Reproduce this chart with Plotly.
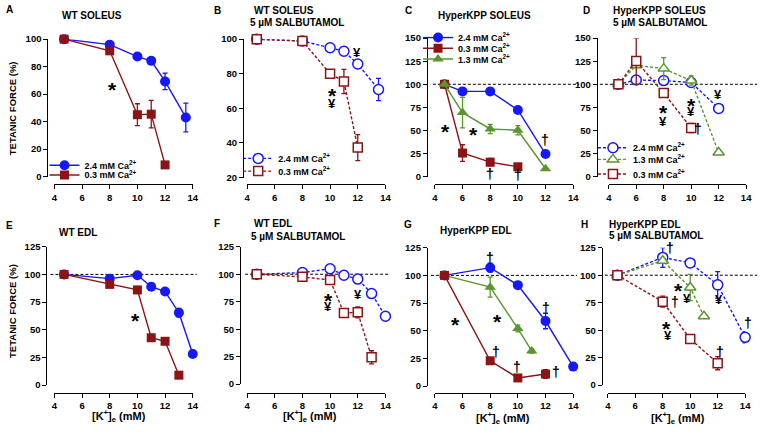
import plotly.graph_objects as go

W, H = 763, 434
FONT = "Liberation Sans, Arial, sans-serif"
BLUE = "#1616ff"
RED = "#8c1414"
GREEN = "#5a962d"

# ---------------- data ----------------
# A: WT soleus
A_x_24 = [4.7, 8, 10, 11, 12, 13.5]
A_y_24 = [100, 96, 87.3, 84.2, 69.2, 43]
A_e_24 = [0, 0, 0, 0, 6, 10.5]
A_x_03 = [4.7, 8, 10, 11, 12]
A_y_03 = [100, 91.5, 45, 45.4, 8.5]
A_e_03 = [0, 0, 8, 10, 0]
# B: WT soleus + salbutamol
B_x_24 = [4.7, 8, 10, 11, 12, 13.5]
B_y_24 = [100, 98.9, 95, 93, 85.6, 70.9]
B_e_24 = [0, 0, 0, 0, 0, 6.4]
B_x_03 = [4.7, 8, 10, 11, 12]
B_y_03 = [100, 98.9, 80, 75.5, 37.3]
B_e_03 = [0, 0, 0, 7, 7.5]
# C: HyperKPP soleus
C_x_24 = [4.7, 6, 8, 10, 12]
C_y_24 = [100, 92.3, 92.3, 72.2, 24.4]
C_e_24 = [0, 0, 0, 0, 0]
C_x_03 = [4.7, 6, 8, 10]
C_y_03 = [100, 25.5, 15.6, 10.6]
C_e_03 = [0, 9, 4, 0]
C_x_13 = [4.7, 6, 8, 10, 12]
C_y_13 = [100, 69.3, 51.6, 50.2, 8.5]
C_e_13 = [0, 16.6, 5, 5, 0]
# D: HyperKPP soleus + salbutamol
D_x_24 = [4.7, 6, 8, 10, 12]
D_y_24 = [100, 104.7, 104, 101.9, 73.9]
D_e_24 = [0, 0, 0, 0, 2]
D_x_13 = [4.7, 6, 8, 10, 12]
D_y_13 = [100, 120.6, 117, 104, 26]
D_e_13 = [0, 0, 12, 5, 0]
D_x_03 = [4.7, 6, 8, 10]
D_y_03 = [100, 125.2, 90.5, 52.7]
D_e_03 = [0, 25, 0, 5]
# E: WT EDL
E_x_24 = [4.7, 8, 10, 11, 12, 13, 14]
E_y_24 = [100, 96.2, 99.2, 88.9, 84.5, 65.4, 28.2]
E_e_24 = [0, 0, 0, 0, 0, 4, 0]
E_x_03 = [4.7, 8, 10, 11, 12, 13]
E_y_03 = [100, 91, 86, 42.8, 39.6, 9]
E_e_03 = [0, 0, 0, 0, 0, 0]
# F: WT EDL + salbutamol
F_x_24 = [4.7, 8, 10, 11, 12, 13, 14]
F_y_24 = [100, 101.5, 105, 99.1, 95.6, 82.4, 61.8]
F_e_24 = [0, 0, 0, 0, 0, 0, 0]
F_x_03 = [4.7, 8, 10, 11, 12, 13]
F_y_03 = [100, 97.6, 94.7, 64.7, 65.3, 24.4]
F_e_03 = [0, 0, 0, 3, 5, 6]
# G: HyperKPP EDL
G_x_24 = [4.7, 8, 10, 12, 14]
G_y_24 = [100, 107, 91.2, 58.8, 17.6]
G_e_24 = [0, 4, 0, 7, 0]
G_x_13 = [4.7, 8, 10, 11]
G_y_13 = [100, 89.4, 52, 31.8]
G_e_13 = [0, 9, 3, 2]
G_x_03 = [4.7, 8, 10, 12]
G_y_03 = [100, 22.9, 7.4, 10.9]
G_e_03 = [0, 0, 0, 4]
# H: HyperKPP EDL + salbutamol
H_x_24 = [4.7, 8, 10, 12, 14]
H_y_24 = [100, 116.2, 111.2, 91.2, 43.5]
H_e_24 = [0, 9, 0, 12, 5]
H_x_13 = [4.7, 8, 10, 11]
H_y_13 = [100, 113.2, 88.8, 62.6]
H_e_13 = [0, 0, 12, 0]
H_x_03 = [4.7, 8, 10, 12]
H_y_03 = [100, 75.9, 42, 20]
H_e_03 = [0, 5, 0, 6]

x_ticks = [4, 6, 8, 10, 12, 14]
yticks_A = [0, 20, 40, 60, 80, 100]
yticks_B = [20, 40, 60, 80, 100]
yticks_CD = [0, 25, 50, 75, 100, 125, 150]
yticks_EH = [0, 25, 50, 75, 100, 125]

LBL_24 = "2.4 mM Ca<sup>2+</sup>"
LBL_03 = "0.3 mM Ca<sup>2+</sup>"
LBL_13 = "1.3 mM Ca<sup>2+</sup>"

# significance symbols (symbol, K+, force)
sig_A = [("*", 8.17, 67)]
sig_B = [("¥", 11.93, 92.1), ("*", 10.15, 70.5), ("¥", 10.15, 63)]
sig_C = [("*", 4.78, 53.8), ("*", 6.79, 51), ("†", 11.93, 39.6), ("†", 7.98, 3.2), ("†", 9.99, 1.4)]
sig_D = [("*", 7.95, 75), ("¥", 7.95, 59.8), ("*", 10.0, 82.8), ("¥", 10.0, 70.4),
         ("¥", 11.95, 88.8), ("†", 10.47, 51.6)]
sig_E = [("*", 9.83, 62.8)]
sig_F = [("*", 9.87, 80.3), ("¥", 9.87, 70.6), ("¥", 12.05, 81.5)]
sig_G = [("†", 8.02, 116), ("*", 5.49, 60.3), ("*", 8.5, 63.2), ("†", 12.05, 70.6),
         ("†", 8.43, 30.9), ("†", 9.92, 17), ("†", 12.76, 12.6)]
sig_H = [("†", 8.52, 124.4), ("*", 9.12, 90.6), ("¥", 9.79, 78.8), ("†", 8.88, 75.3),
         ("¥", 12.1, 78.2), ("*", 8.29, 56.2), ("¥", 8.4, 45), ("†", 12.17, 30), ("†", 14.17, 56.2)]


def pxx(x):
    return x / W


def pyy(y):
    return 1 - y / H


fig = go.Figure()

# panel geometry (pixels): n, x0, x1, ytop, ybot, x-axis line y, y-axis line x, yrange, yticks
panels = [
    (1, 52, 192, 34, 175, 183, 45, [0, 100], yticks_A),
    (2, 247, 387, 34, 176, 183, 243, [20, 100], yticks_B),
    (3, 437, 577, 33, 175, 183, 429, [0, 150], yticks_CD),
    (4, 613, 752, 33, 175, 183, 601, [0, 150], yticks_CD),
    (5, 52, 192, 247, 389, 397, 44, [0, 125], yticks_EH),
    (6, 247, 387, 247, 388, 397, 240, [0, 125], yticks_EH),
    (7, 437, 577, 248, 390, 397, 429, [0, 125], yticks_EH),
    (8, 612, 751, 248, 389, 397, 606, [0, 125], yticks_EH),
]
x_ranges = {}
for p in panels:
    x_ranges[p[0]] = (p[1], p[2])

tickfont = dict(family=FONT, size=9.5, color="black", weight="bold")
layout_axes = {}
for n, x0, x1, yt, yb, xl, yl, yr, yt_vals in panels:
    sfx = "" if n == 1 else str(n)
    xa = dict(
        domain=[pxx(x0), pxx(x1)], range=[4, 14], anchor="free", position=pyy(xl),
        showline=True, linecolor="black", linewidth=1.2, ticks="outside", ticklen=4,
        tickwidth=1.2, tickcolor="black", tickvals=x_ticks, showgrid=False, zeroline=False,
        tickfont=tickfont,
    )
    if n == 8:
        xa["ticklabeloverflow"] = "allow"
    layout_axes["xaxis" + sfx] = xa
    layout_axes["yaxis" + sfx] = dict(
        domain=[pyy(yb), pyy(yt)], range=yr, anchor="free", position=pxx(yl),
        showline=True, linecolor="black", linewidth=1.2, ticks="outside", ticklen=4,
        tickwidth=1.2, tickcolor="black", tickvals=yt_vals, showgrid=False, zeroline=False,
        tickfont=tickfont,
    )


def add(n, x, y, err, color, symbol, filled, name=None, legend=None):
    sfx = "" if n == 1 else str(n)
    size = {"circle": 10, "square": 9, "triangle-up": 10}[symbol]
    fig.add_trace(go.Scatter(
        x=x, y=y, xaxis="x" + sfx, yaxis="y" + sfx, mode="lines+markers",
        line=dict(color=color, width=1.4, dash="solid" if filled else "3px,2px"),
        marker=dict(symbol=symbol, size=size, color=color if filled else "white",
                    line=dict(color=color, width=0 if filled else 1.5)),
        error_y=dict(type="data", array=err, visible=True, color=color, thickness=1.3, width=2.5),
        name=name, showlegend=legend is not None, legend=legend, cliponaxis=False,
    ))


add(1, A_x_24, A_y_24, A_e_24, BLUE, "circle", True, LBL_24, "legend")
add(1, A_x_03, A_y_03, A_e_03, RED, "square", True, LBL_03, "legend2")
add(2, B_x_24, B_y_24, B_e_24, BLUE, "circle", False, LBL_24, "legend3")
add(2, B_x_03, B_y_03, B_e_03, RED, "square", False, LBL_03, "legend4")
add(3, C_x_24, C_y_24, C_e_24, BLUE, "circle", True, LBL_24, "legend5")
add(3, C_x_03, C_y_03, C_e_03, RED, "square", True, LBL_03, "legend6")
add(3, C_x_13, C_y_13, C_e_13, GREEN, "triangle-up", True, LBL_13, "legend7")
add(4, D_x_24, D_y_24, D_e_24, BLUE, "circle", False, LBL_24, "legend8")
add(4, D_x_13, D_y_13, D_e_13, GREEN, "triangle-up", False, LBL_13, "legend9")
add(4, D_x_03, D_y_03, D_e_03, RED, "square", False, LBL_03, "legend10")
add(5, E_x_24, E_y_24, E_e_24, BLUE, "circle", True)
add(5, E_x_03, E_y_03, E_e_03, RED, "square", True)
add(6, F_x_24, F_y_24, F_e_24, BLUE, "circle", False)
add(6, F_x_03, F_y_03, F_e_03, RED, "square", False)
add(7, G_x_24, G_y_24, G_e_24, BLUE, "circle", True)
add(7, G_x_13, G_y_13, G_e_13, GREEN, "triangle-up", True)
add(7, G_x_03, G_y_03, G_e_03, RED, "square", True)
add(8, H_x_24, H_y_24, H_e_24, BLUE, "circle", False)
add(8, H_x_13, H_y_13, H_e_13, GREEN, "triangle-up", False)
add(8, H_x_03, H_y_03, H_e_03, RED, "square", False)

# legends (one per entry so they can sit tightly)
legend_pos = {
    "legend": (42, 163), "legend2": (42, 173),
    "legend3": (238, 156), "legend4": (238, 169),
    "legend5": (420, 32), "legend6": (420, 43), "legend7": (420, 54),
    "legend8": (597, 145), "legend9": (597, 157), "legend10": (597, 172),
}
legends = {}
for key, (lx, ly) in legend_pos.items():
    legends[key] = dict(
        x=pxx(lx), y=pyy(ly - 14.5), xanchor="left", yanchor="top",
        bgcolor="rgba(0,0,0,0)", borderwidth=0,
        font=dict(family=FONT, size=9, color="black", weight="bold"),
    )

# dashed 100% reference lines (panel, x start px, x end px)
ref_lines = [(3, 435, 583), (4, 604, 763), (5, 48, 196), (6, 245, 390), (7, 433, 581), (8, 609, 763)]
shapes = []
for n, xs, xe in ref_lines:
    shapes.append(dict(type="line", xref="paper", yref="y" + str(n), x0=pxx(xs), x1=pxx(xe),
                       y0=100, y1=100, layer="below",
                       line=dict(color="black", width=1, dash="3px,2px")))

annotations = []
sig_sizes = {"*": 21, "¥": 13, "†": 14}
sig_shift = {"*": -5, "¥": 0, "†": 0}
for n, sig in zip(range(1, 9), [sig_A, sig_B, sig_C, sig_D, sig_E, sig_F, sig_G, sig_H]):
    sfx = "" if n == 1 else str(n)
    x0, x1 = x_ranges[n]
    ppu = (x1 - x0) / 10.0
    for s, xv, yv in sig:
        # annotations outside the axis range are hidden, so anchor inside and shift in pixels
        xa = min(max(xv, 4), 14)
        annotations.append(dict(
            x=xa, y=yv, xref="x" + sfx, yref="y" + sfx, text="<b>%s</b>" % s, showarrow=False,
            xanchor="center", yanchor="middle", yshift=sig_shift[s], xshift=(xv - xa) * ppu,
            font=dict(family=FONT, size=sig_sizes[s], color="black"),
        ))

# panel letters and titles (text, left px, center y px)
titles = [
    ("A", 1, 4), ("WT SOLEUS", 58, 10),
    ("B", 212, 5), ("WT SOLEUS", 252, 5), ("5 µM SALBUTAMOL", 248, 17),
    ("C", 405, 5), ("HyperKPP SOLEUS", 438, 10),
    ("D", 585, 5), ("HyperKPP SOLEUS", 615, 5), ("5 µM SALBUTAMOL", 615, 17),
    ("E", 1, 225), ("WT EDL", 55, 232),
    ("F", 212, 223), ("WT EDL", 252, 223), ("5 µM SALBUTAMOL", 249, 236),
    ("G", 404, 224), ("HyperKPP EDL", 440, 230),
    ("H", 583, 224), ("HyperKPP EDL", 611, 224), ("5 µM SALBUTAMOL", 611, 235),
]
for t, lx, ly in titles:
    annotations.append(dict(
        x=pxx(lx), y=pyy(ly), xref="paper", yref="paper", text="<b>%s</b>" % t, showarrow=False,
        xanchor="left", yanchor="middle", font=dict(family=FONT, size=10, color="black"),
    ))

for cy in (105, 313):
    annotations.append(dict(
        x=pxx(9), y=pyy(cy), xref="paper", yref="paper", text="<b>TETANIC FORCE (%)</b>",
        showarrow=False, textangle=-90, xanchor="center", yanchor="middle",
        font=dict(family=FONT, size=9.5, color="black"),
    ))
for cx, cy in ((117, 421), (311, 421), (506, 423), (683, 423)):
    annotations.append(dict(
        x=pxx(cx), y=pyy(cy), xref="paper", yref="paper",
        text="<b>[K<sup>+</sup>]<sub>e</sub> (mM)</b>",
        showarrow=False, xanchor="center", yanchor="middle",
        font=dict(family=FONT, size=11, color="black"),
    ))

fig.update_layout(
    width=W, height=H, margin=dict(l=0, r=0, t=0, b=0),
    paper_bgcolor="white", plot_bgcolor="white",
    font=dict(family=FONT, size=10, color="black"),
    shapes=shapes, annotations=annotations,
    **layout_axes, **legends,
)

fig.write_html(
    "out.html",
    config={"displayModeBar": False},
    post_script=("document.body.style.margin='0';"
                 "document.body.style.overflow='hidden';"
                 "document.documentElement.style.overflow='hidden';"),
)
